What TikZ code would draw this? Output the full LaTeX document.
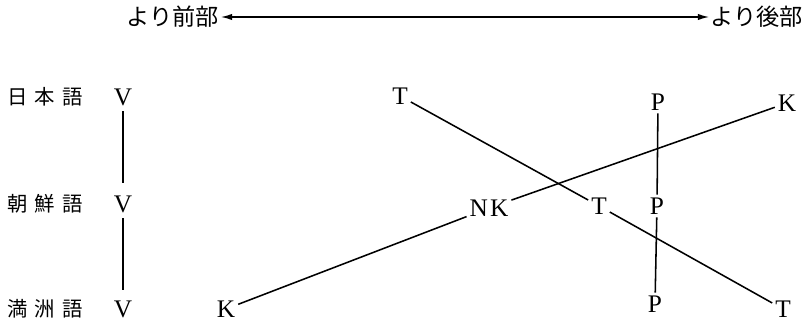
\documentclass[tikz,border=0pt]{standalone}
\usepackage{fontspec}
\setmainfont{Liberation Serif}
\newfontfamily\jafont{Noto Sans CJK JP}
\usepackage{tikz}
\usetikzlibrary{arrows.meta}
\newcommand{\gap}{\kern5pt}

\begin{document}
\begin{tikzpicture}[
  x=0.025cm, y=-0.025cm,
  lang/.style={font=\jafont\fontsize{14.5}{16}\selectfont, inner sep=1pt},
  dir/.style={font=\jafont\fontsize{16.5}{18}\selectfont, inner sep=1pt},
  seg/.style={font=\fontsize{18}{20}\selectfont, inner sep=2pt},
  ln/.style={line width=1.1pt},
  arr/.style={{Latex[length=8pt,width=4.5pt]}-{Latex[length=8pt,width=4.5pt]}, line width=1pt},
]
  \useasboundingbox (0,0) rectangle (809,327);

  % direction
  \node[dir] (front) at (173,17) {より前部};
  \node[dir] (back) at (757,17) {より後部};
  \draw[arr] (front) -- (back);

  % languages
  \node[lang] (ja) at (45,97) {日\gap 本\gap 語};
  \node[lang] (ko) at (45,204) {朝\gap 鮮\gap 語};
  \node[lang] (ma) at (45,309) {満\gap 洲\gap 語};
  \node[seg] (v1) at (123,97) {V};
  \node[seg] (v2) at (123,204) {V};
  \node[seg] (v3) at (123,309) {V};
  \draw[ln, shorten <=2pt, shorten >=7pt] (v1) -- (v2);
  \draw[ln, shorten <=2pt, shorten >=5pt] (v2) -- (v3);

  % T
  \node[seg] (t1) at (400,96) {T};
  \node[seg] (t2) at (599,206) {T};
  \node[seg] (t3) at (783,309) {T};
  \draw[ln] (t1) -- (t2);
  \draw[ln] (t2) -- (t3);

  % P
  \node[seg] (p1) at (658,102) {P};
  \node[seg] (p2) at (657,206) {P};
  \node[seg] (p3) at (655,304) {P};
  \draw[ln] (p1) -- (p2);
  \draw[ln] (p2) -- (p3);

  % K
  \node[seg] (k1) at (787,103) {K};
  \node[seg] (nk) at (489,208) {N\kern1.5pt K};
  \node[seg] (k3) at (226,309) {K};
  \draw[ln] (k1) -- (nk);
  \draw[ln] (nk) -- (k3);
\end{tikzpicture}
\end{document}
